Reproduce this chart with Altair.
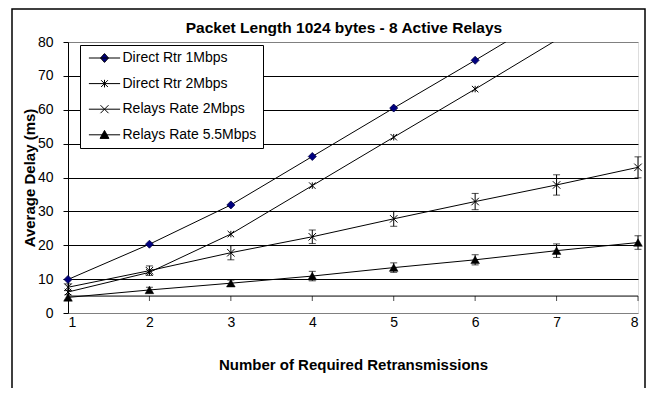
import altair as alt
import pandas as pd

# ---- data ----
x_vals = [1, 2, 3, 4, 5, 6, 7, 8]
series_names = ["Direct Rtr 1Mbps", "Direct Rtr 2Mbps", "Relays Rate 2Mbps", "Relays Rate 5.5Mbps"]
direct_1m = [9.9, 20.3, 31.9, 46.2, 60.5, 74.6, 89.0, 103.4]
direct_2m = [6.2, 12.0, 23.3, 37.6, 51.9, 66.1, 80.6, 95.0]
relays_2m = [7.6, 12.5, 17.8, 22.5, 27.8, 32.9, 37.8, 43.0]
relays_2m_err = [1.0, 1.4, 2.1, 2.0, 2.2, 2.4, 3.0, 3.1]
relays_55m = [4.6, 6.8, 8.8, 10.9, 13.4, 15.7, 18.4, 20.8]
relays_55m_err = [0.8, 0.8, 0.9, 1.4, 1.4, 1.5, 2.0, 2.0]
y_ticks = [0, 10, 20, 30, 40, 50, 60, 70, 80]
x_axis_crossing = [5]

title_text = "Packet Length 1024 bytes - 8 Active Relays"
x_title = "Number of Required Retransmissions"
y_title = "Average Delay (ms)"

FONT = "Liberation Sans"

values = [direct_1m, direct_2m, relays_2m, relays_55m]
errors = [None, None, relays_2m_err, relays_55m_err]
rows = []
for name, vals, errs in zip(series_names, values, errors):
    for i, (xv, yv) in enumerate(zip(x_vals, vals)):
        r = {"series": name, "x": xv, "y": yv}
        if errs is not None:
            r["lo"] = yv - errs[i]
            r["hi"] = yv + errs[i]
        rows.append(r)
df = pd.DataFrame(rows)
df_err = df.dropna(subset=["lo"])

x_scale = alt.Scale(domain=[1, 8], nice=False, zero=False)
y_scale = alt.Scale(domain=[0, 80], nice=False, zero=True)

x_axis = alt.Axis(values=x_vals, format="d", domain=False, ticks=False, grid=False,
                  labelPadding=2, labelFontSize=14, labelColor="black",
                  titleFontSize=15, titleFontWeight="bold", titleColor="black",
                  titlePadding=28)
y_axis = alt.Axis(values=y_ticks, format="d", grid=True,
                  gridColor=alt.condition("datum.value == 0 || datum.value == 80",
                                          alt.value("#808080"), alt.value("black")),
                  gridWidth=1, domainColor="black", tickColor="black", tickSize=5,
                  labelPadding=10, labelFontSize=14, labelColor="black",
                  titleFontSize=15, titleFontWeight="bold", titleColor="black",
                  titlePadding=0)


def X(field="x"):
    return alt.X(f"{field}:Q", scale=x_scale, axis=x_axis, title=x_title)


def Y(field="y"):
    return alt.Y(f"{field}:Q", scale=y_scale, axis=y_axis, title=y_title)


base = alt.Chart(df)

lines = base.mark_line(color="black", strokeWidth=1, clip=True).encode(
    x=X(), y=Y(), detail="series:N")

axis_line = alt.Chart(pd.DataFrame({"y": x_axis_crossing})).mark_rule(
    color="black", strokeWidth=1).encode(y=Y())

axis_ticks = alt.Chart(pd.DataFrame({"x": x_vals, "y": x_axis_crossing * len(x_vals)})).mark_tick(
    orient="vertical", size=5, thickness=1, yOffset=2.5, color="black").encode(x=X(), y=Y())

err_rule = alt.Chart(df_err).mark_rule(color="black", strokeWidth=1).encode(
    x=X(), y=Y("lo"), y2="hi:Q")
err_cap_lo = alt.Chart(df_err).mark_tick(orient="horizontal", size=7, thickness=1,
                                         color="black").encode(x=X(), y=Y("lo"))
err_cap_hi = alt.Chart(df_err).mark_tick(orient="horizontal", size=7, thickness=1,
                                         color="black").encode(x=X(), y=Y("hi"))

star_path = "M-1,-1L1,1M-1,1L1,-1M0,-1L0,1"
x_path = "M-1,-1L1,1M-1,1L1,-1"
point_styles = {
    "Direct Rtr 1Mbps": dict(shape="diamond", fill="#000080", stroke="#000040", size=64, strokeWidth=0.8),
    "Direct Rtr 2Mbps": dict(shape=star_path, fill="none", stroke="black", size=42, strokeWidth=1),
    "Relays Rate 2Mbps": dict(shape=x_path, fill="none", stroke="black", size=56, strokeWidth=1),
    "Relays Rate 5.5Mbps": dict(shape="triangle-up", fill="black", stroke="black", size=75, strokeWidth=0.5),
}
point_layers = []
for name in series_names:
    st = point_styles[name]
    point_layers.append(
        base.transform_filter(alt.datum.series == name)
        .transform_filter(alt.datum.y <= 80)
        .mark_point(shape=st["shape"], fill=st["fill"], stroke=st["stroke"], size=st["size"],
                    strokeWidth=st["strokeWidth"], opacity=1, filled=False)
        .encode(x=X(), y=Y())
    )

# legend symbols: a short line with the series marker (units of 4 px)
legend_paths = [
    "M-3.9,0L3.9,0M-1,0L0,-1.1L1,0L0,1.1Z",
    "M-3.9,0L3.9,0M-0.85,-0.85L0.85,0.85M-0.85,0.85L0.85,-0.85M0,-0.95L0,0.95",
    "M-3.9,0L3.9,0M-1,-1L1,1M-1,1L1,-1",
    "M-3.9,0L3.9,0M0,-1.1L1.1,0.9L-1.1,0.9Z",
]
legend_fills = ["#000080", "transparent", "transparent", "black"]
legend_strokes = ["black", "black", "black", "black"]
leg = alt.Legend(title=None, orient="none", legendX=12, legendY=3, symbolSize=64,
                 symbolOffset=11.5, labelOffset=11,
                 labelFontSize=14, labelFont=FONT, labelColor="black",
                 labelExpr="datum.label + '    '",
                 strokeColor="black", fillColor="white", padding=6, rowPadding=11.6,
                 symbolStrokeWidth=1, cornerRadius=0)
legend_layer = base.transform_filter("false").mark_point(
    filled=True, strokeWidth=1, opacity=1).encode(
    x=X(), y=Y(),
    shape=alt.Shape("series:N", scale=alt.Scale(domain=series_names, range=legend_paths), legend=leg),
    fill=alt.Fill("series:N", scale=alt.Scale(domain=series_names, range=legend_fills), legend=leg),
    stroke=alt.Stroke("series:N", scale=alt.Scale(domain=series_names, range=legend_strokes), legend=leg),
)

title_layer = alt.Chart(pd.DataFrame({"t": [title_text]})).mark_text(
    fontSize=15.5, fontWeight="bold", font=FONT, color="black", align="center",
    baseline="middle", clip=False).encode(text="t:N", x=alt.value(276), y=alt.value(-14.5))

border = alt.Chart(pd.DataFrame({"a": [0]})).mark_rect(
    filled=False, color="black", strokeWidth=1.5, clip=False).encode(
    x=alt.value(-56), x2=alt.value(577), y=alt.value(-33), y2=alt.value(420))

chart = alt.layer(
    lines, axis_line, axis_ticks, err_rule, err_cap_lo, err_cap_hi, *point_layers,
    legend_layer, title_layer, border
).properties(
    width=570, height=271,
    autosize=alt.AutoSizeParams(type="none"),
    padding={"left": 60, "top": 34, "right": 8, "bottom": 75},
).configure_view(
    stroke="#808080", strokeWidth=1, fill="white"
).configure_axis(
    labelFont=FONT, titleFont=FONT
).configure(background="white")

chart.save("out.html", embed_options={"renderer": "svg", "actions": False})
